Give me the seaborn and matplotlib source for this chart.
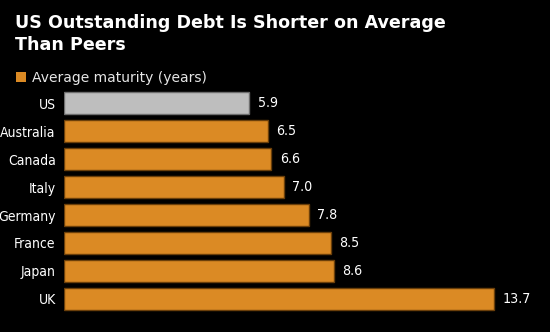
import matplotlib
matplotlib.use("Agg")
import matplotlib.pyplot as plt
import seaborn as sns
import pandas as pd
from matplotlib.patches import Rectangle
from matplotlib import font_manager as fm

countries = ["US", "Australia", "Canada", "Italy", "Germany", "France", "Japan", "UK"]
maturity = [5.9, 6.5, 6.6, 7.0, 7.8, 8.5, 8.6, 13.7]
value_labels = ["5.9", "6.5", "6.6", "7.0", "7.8", "8.5", "8.6", "13.7"]

ORANGE = "#DB8A24"
GRAY = "#BEBEBE"
colors = [GRAY] + [ORANGE] * 7
edges = ["#6E6E6E"] + ["#6B3F0A"] * 7

sns.set_theme(style="dark")
plt.rcParams["font.family"] = ["DejaVu Sans"]

cond = [f.fname for f in fm.fontManager.ttflist
        if f.name == "DejaVu Sans" and f.stretch == "condensed"
        and f.style == "normal" and f.weight in (400, "normal")]
if cond:
    lab_fp = fm.FontProperties(fname=cond[0], size=10.0)
    val_fp = fm.FontProperties(fname=cond[0], size=10.2)
else:
    lab_fp = fm.FontProperties(family="DejaVu Sans", size=9.6)
    val_fp = fm.FontProperties(family="DejaVu Sans", size=9.6)

df = pd.DataFrame({"country": countries, "maturity": maturity})

W, H = 550, 332
fig = plt.figure(figsize=(5.5, 3.32), dpi=100, facecolor="black")
ax = fig.add_axes([64 / W, 1 - 312.8 / H, (W - 64) / W, (312.8 - 89.3) / H])
ax.set_facecolor("black")

sns.barplot(data=df, x="maturity", y="country", hue="country", palette=colors,
            order=countries, hue_order=countries, legend=False, width=0.79,
            linewidth=1, ax=ax, saturation=1)
for patch, ec in zip(ax.patches, edges):
    patch.set_edgecolor(ec)

ax.set_xlim(0, (W - 64) / 31.36)
ax.set_ylim(7.5, -0.5)
ax.set_xlabel("")
ax.set_ylabel("")
ax.set_xticks([])
ax.set_yticks(range(len(countries)), countries, fontproperties=lab_fp, color="white")
ax.tick_params(axis="y", length=0, pad=6, labelcolor="white")
for s in ax.spines.values():
    s.set_visible(False)
ax.grid(False)

for i, (v, lab) in enumerate(zip(maturity, value_labels)):
    ax.text(v + 0.28, i, lab, va="center", ha="left", color="white",
            fontproperties=val_fp)

fig.text(15 / W, 1 - 28 / H, "US Outstanding Debt Is Shorter on Average",
         color="white", fontsize=12.6, fontweight="bold", ha="left", va="baseline")
fig.text(15 / W, 1 - 50 / H, "Than Peers",
         color="white", fontsize=12.6, fontweight="bold", ha="left", va="baseline")

fig.patches.append(Rectangle((16 / W, 1 - 82 / H), 10 / W, 10 / H,
                             transform=fig.transFigure, facecolor=ORANGE,
                             edgecolor="none"))
fig.text(32 / W, 1 - 82 / H, "Average maturity (years)", color="#E6E6E6",
         fontsize=10, ha="left", va="baseline")

fig.savefig("out.png", dpi=100, facecolor="black")
